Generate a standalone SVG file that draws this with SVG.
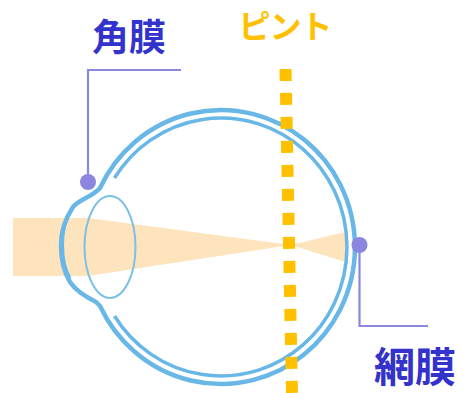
<svg xmlns="http://www.w3.org/2000/svg" width="469" height="393" viewBox="0 0 469 393">
<defs><filter id="soft" x="-5%" y="-5%" width="110%" height="110%"><feGaussianBlur stdDeviation="0.45"/></filter></defs>
<style>
.eye{fill:none;stroke:#68B7E6;stroke-linejoin:round}
.lead{fill:none;stroke:#8B86DF;stroke-width:2.2}
.dot{fill:#8B86DF}
text{font-family:"Noto Sans CJK JP","Noto Sans CJK SC",sans-serif;font-weight:700;text-anchor:middle}
.lab{fill:#3333CC}
</style>
<rect width="469" height="393" fill="#fff"/>
<g id="beam"><path d="M13 218H88L291 245L345 232Q350 247 345 262L291 245L88 276H13Z" fill="#FDE4BC" filter="url(#soft)"/></g>
<g id="eye" filter="url(#soft)">
<path class="eye" stroke-width="4.5" d="M100 306L96 302C86 297 76 291 70 282C64 272 61 258 61 245C61 231 65 219 73 207C80 199 92 197 100 188A134 137 0 1 1 100 306Z"/>
<path class="eye" stroke-width="3" d="M70 212C64 222 62.500 234 62.500 245C62.500 256 64 268 70 278"/>
<path class="eye" stroke-width="3.500" d="M114.500 178A126 129 0 1 1 114.500 316"/>
<ellipse class="eye" stroke-width="2" cx="110" cy="247" rx="25.500" ry="51" style="stroke:#7CC0E8"/>
</g>
<g id="focus"><line x1="285.500" y1="69" x2="292" y2="393" stroke="#FFC000" stroke-width="12" stroke-dasharray="12 12"/>
<text x="285" y="38" font-size="32" fill="#FFC000" letter-spacing="-1">ピント</text></g>
<g id="connectors">
<path class="lead" d="M181 70H88V182"/>
<path class="lead" d="M359.500 245V326H428"/>
</g>
<g id="cornea"><circle class="dot" cx="88" cy="182" r="8"/>
<text class="lab" x="129" y="51" font-size="37">角膜</text></g>
<g id="retina"><circle class="dot" cx="359.500" cy="245" r="8"/>
<text class="lab" x="415" y="381.500" font-size="41">網膜</text></g>
</svg>
